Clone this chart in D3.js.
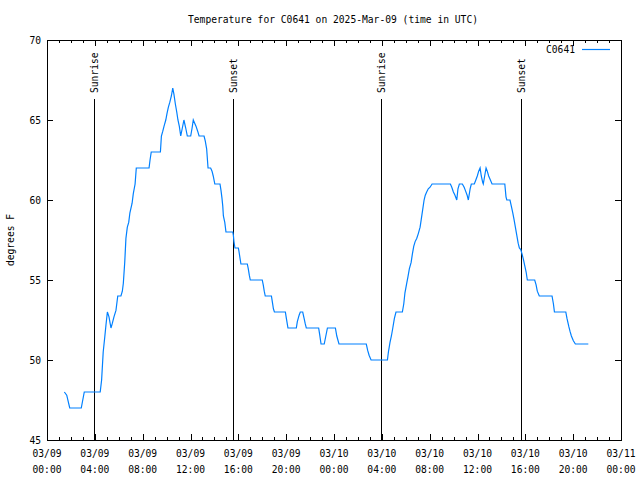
<!DOCTYPE html>
<html>
<head>
<meta charset="utf-8">
<script src="https://cdn.jsdelivr.net/npm/d3@7"></script>
<style>
html,body{margin:0;padding:0;background:#fff;}
svg{display:block;}
</style>
</head>
<body>
<svg id="chart" width="640" height="480"></svg>
<script>
// ---- data ----
const chartTitle = "Temperature for C0641 on 2025-Mar-09 (time in UTC)";
const seriesName = "C0641";
const yLabel = "degrees F";
const startTime = "2025-03-09T00:00:00Z";
const endTime = "2025-03-11T00:00:00Z";
// minutes after 2025-03-09 00:00 UTC
const minutes = [87,99,114,172,187,267,274,282,290,296,303,311,321,328,336,346,355,371,378,383,390,396,403,410,416,427,433,442,448,512,517,523,569,574,581,587,596,602,609,616,624,631,637,644,651,657,664,671,679,687,696,704,721,728,734,741,748,756,763,788,794,801,808,821,828,834,842,868,873,878,882,885,892,898,932,935,938,943,960,963,968,973,1005,1010,1015,1020,1080,1085,1090,1095,1126,1131,1136,1141,1196,1201,1209,1251,1256,1265,1271,1283,1290,1295,1301,1363,1368,1375,1391,1399,1407,1447,1454,1465,1602,1609,1616,1626,1708,1713,1721,1728,1735,1743,1751,1783,1790,1796,1805,1811,1818,1827,1833,1840,1847,1855,1863,1872,1878,1885,1892,1898,1905,1913,1922,1932,2024,2031,2039,2047,2056,2062,2069,2084,2093,2099,2108,2114,2123,2129,2144,2153,2159,2166,2173,2179,2186,2189,2196,2203,2209,2216,2223,2233,2297,2303,2307,2323,2330,2337,2343,2350,2357,2364,2370,2377,2384,2390,2397,2404,2410,2447,2454,2460,2470,2534,2541,2546,2603,2609,2618,2624,2631,2641,2651,2716];
const temps = [48,47.8,47,47,48,48,48.75,50.5,51.45,52.2,53,52.7,52,52.3,52.7,53.1,54,54,54.3,54.8,56.1,57.6,58.3,58.6,59.2,59.8,60.4,61,62,62,62.5,63,63,64,64.3,64.6,65,65.4,65.8,66.1,66.5,67,66.6,66,65.5,65,64.6,64,64.5,65,64.5,64,64,64.5,65,64.8,64.6,64.3,64,64,63.7,63.2,62,62,61.8,61.5,61,61,60.6,60.1,59.6,59,58.6,58,58,57.8,57.4,57,57,56.8,56.4,56,56,55.7,55.3,55,55,54.7,54.3,54,54,53.6,53.2,53,53,52.6,52,52,52.4,52.8,53,53,52.6,52.3,52,52,51.6,51,51,51.5,52,52,51.5,51,51,50.6,50.3,50,50,50.5,51.1,51.5,52,52.6,53,53,53.5,54.2,54.8,55.2,55.7,56.1,56.6,57.1,57.4,57.6,57.9,58.3,58.8,59.4,60,60.3,60.5,60.7,60.8,61,61,60.8,60.5,60.3,60,60.7,61,61,60.8,60.6,60.3,60,60.7,61,61,61.3,61.5,61.8,62,61.5,61.1,61,61.5,62,61.8,61.5,61.3,61,61,60.2,60,60,59.6,59.2,58.8,58.3,57.8,57.3,57,56.9,56.6,56.3,55.9,55.5,55,55,54.7,54.3,54,54,53.5,53,53,52.6,52.1,51.8,51.5,51.2,51,51];
// sun events, minutes after start
const eventLabels = ["Sunrise","Sunset","Sunrise","Sunset"];
const eventMinutes = [237,935,1677,2380];
const yTicks = [45,50,55,60,65,70];

// ---- drawing ----
const W = 640, H = 480;
const M = {left:47, right:621, top:40, bottom:440};
const FONT = "'DejaVu Sans Mono', 'Liberation Mono', monospace";
const FS = 11;     // font size
const CHW = 5.8;   // character advance

const t0 = new Date(startTime), t1 = new Date(endTime);
const toDate = m => new Date(t0.getTime() + m*60000);
const data = minutes.map((m,i)=>({t:toDate(m), v:temps[i]}));

const x = d3.scaleUtc().domain([t0,t1]).range([M.left, M.right]);
const y = d3.scaleLinear().domain([45,70]).range([M.bottom, M.top]);

const svg = d3.select("#chart");
svg.append("rect").attr("width",W).attr("height",H).attr("fill","#fff");

function txt(g, s){
  const t = g.append("text").text(s)
    .attr("font-family", FONT).attr("font-size", FS).attr("fill","#000");
  t.attr("textLength", s.length*CHW).attr("lengthAdjust","spacingAndGlyphs");
  return t;
}

const minorTicks = d3.utcHour.every(1).range(t0, new Date(t1.getTime()+1));
const majorTicks = d3.utcHour.every(4).range(t0, new Date(t1.getTime()+1));

const axB = svg.append("g").attr("transform",`translate(0,${M.bottom})`)
  .call(d3.axisBottom(x).tickValues(minorTicks).tickSizeInner(-3).tickSizeOuter(0).tickFormat(""));
const axBM = svg.append("g").attr("transform",`translate(0,${M.bottom})`)
  .call(d3.axisBottom(x).tickValues(majorTicks).tickSizeInner(-6).tickSizeOuter(0).tickFormat(""));
const axT = svg.append("g").attr("transform",`translate(0,${M.top})`)
  .call(d3.axisTop(x).tickValues(minorTicks).tickSizeInner(-3).tickSizeOuter(0).tickFormat(""));
const axTM = svg.append("g").attr("transform",`translate(0,${M.top})`)
  .call(d3.axisTop(x).tickValues(majorTicks).tickSizeInner(-6).tickSizeOuter(0).tickFormat(""));
const axL = svg.append("g").attr("transform",`translate(${M.left},0)`)
  .call(d3.axisLeft(y).tickValues(yTicks).tickSizeInner(-6).tickSizeOuter(0).tickFormat(""));
const axR = svg.append("g").attr("transform",`translate(${M.right},0)`)
  .call(d3.axisRight(y).tickValues(yTicks).tickSizeInner(-6).tickSizeOuter(0).tickFormat(""));
[axB,axBM,axT,axTM,axL,axR].forEach(a=>{
  a.select(".domain").remove();
  a.selectAll("line").attr("stroke","#000").attr("shape-rendering","crispEdges");
});

// x tick labels (two lines)
const fmtD = d3.utcFormat("%m/%d"), fmtH = d3.utcFormat("%H:%M");
const xl = svg.append("g");
majorTicks.forEach(d=>{
  const cx = Math.min(x(d), 640 - 2.5*FS*0.602 - 1);
  txt(xl, fmtD(d)).attr("x", cx).attr("y", 453).attr("text-anchor","middle").attr("dominant-baseline","central");
  txt(xl, fmtH(d)).attr("x", cx).attr("y", 469).attr("text-anchor","middle").attr("dominant-baseline","central");
});
// y tick labels
const yl = svg.append("g");
yTicks.forEach(v=>{
  txt(yl, String(v)).attr("x", 41).attr("y", y(v)).attr("text-anchor","end").attr("dominant-baseline","central");
});

// sunrise / sunset markers
const ev = svg.append("g");
eventMinutes.forEach((m,i)=>{
  const xx = Math.round(x(toDate(m)))+0.5;
  ev.append("line").attr("x1",xx).attr("x2",xx).attr("y1",99).attr("y2",M.bottom)
    .attr("stroke","#000").attr("stroke-width",1).attr("shape-rendering","crispEdges");
  txt(ev, eventLabels[i]).attr("text-anchor","start").attr("dominant-baseline","central")
    .attr("transform",`translate(${xx},93) rotate(-90)`);
});

// data line
const line = d3.line().x(d=>x(d.t)).y(d=>y(d.v));
svg.append("path").datum(data).attr("d", line)
  .attr("fill","none").attr("stroke","#0080ff").attr("stroke-width",1.2);

// border
svg.append("rect").attr("x",M.left+0.5).attr("y",M.top+0.5)
  .attr("width",M.right-M.left).attr("height",M.bottom-M.top)
  .attr("fill","none").attr("stroke","#000").attr("shape-rendering","crispEdges");

// title
txt(svg, chartTitle).attr("x", 333).attr("y", 19).attr("text-anchor","middle").attr("dominant-baseline","central");
// y label
txt(svg, yLabel).attr("text-anchor","middle").attr("dominant-baseline","central")
  .attr("transform","translate(10,240) rotate(-90)");
// legend
txt(svg, seriesName).attr("x", 575).attr("y", 49).attr("text-anchor","end").attr("dominant-baseline","central");
svg.append("line").attr("x1",582).attr("x2",610).attr("y1",49.5).attr("y2",49.5)
  .attr("stroke","#0080ff").attr("stroke-width",1.2);
</script>
</body>
</html>
